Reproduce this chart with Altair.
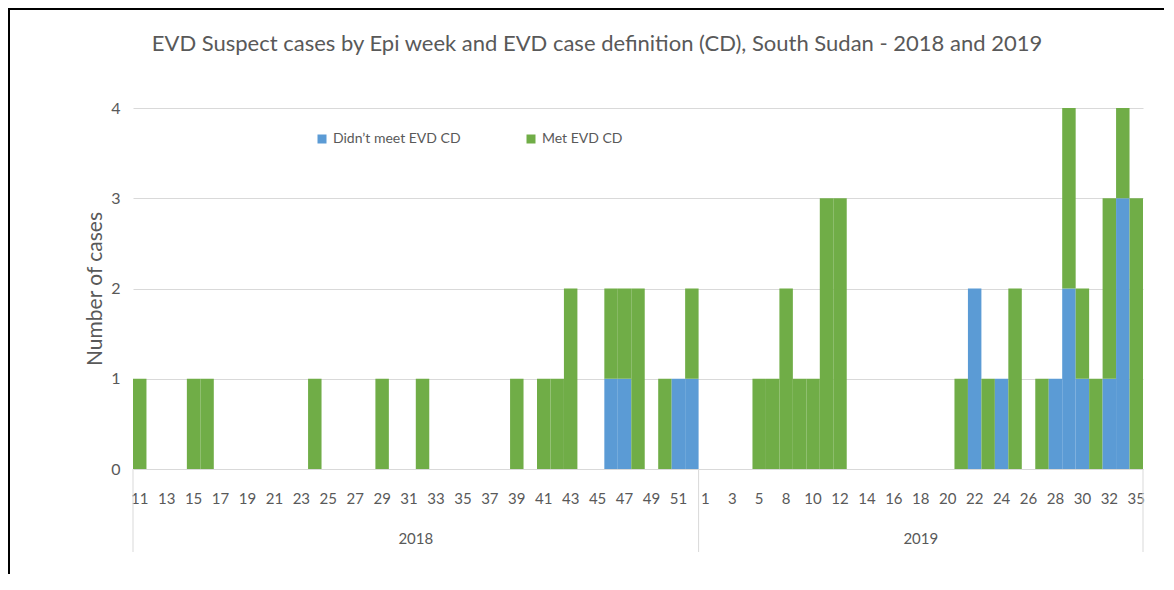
import altair as alt
import pandas as pd

# ---- data ----
years_2018 = list(range(11, 53))
weeks_2019 = [1, 2, 3, 4, 5, 6] + list(range(8, 34)) + [35]

year_list = ["2018"] * len(years_2018) + ["2019"] * len(weeks_2019)
week_list = years_2018 + weeks_2019

didnt_meet_2018 = {46: 1, 47: 1, 51: 1, 52: 1}
met_2018 = {11: 1, 15: 1, 16: 1, 24: 1, 29: 1, 32: 1, 39: 1, 41: 1, 42: 1,
            43: 2, 46: 1, 47: 1, 48: 2, 50: 1, 52: 1}
didnt_meet_2019 = {22: 2, 24: 1, 28: 1, 29: 2, 30: 1, 32: 1, 33: 3}
met_2019 = {5: 1, 6: 1, 8: 2, 9: 1, 10: 1, 11: 3, 12: 3, 21: 1, 23: 1, 25: 2,
            27: 1, 29: 2, 30: 1, 31: 1, 32: 2, 33: 1, 35: 3}

series_names = ["Didn\u2019t meet EVD CD", "Met EVD CD"]
series_colors = ["#5B9BD5", "#70AD47"]

title_text = "EVD Suspect cases by Epi week and EVD case definition (CD), South Sudan - 2018 and 2019"

FONT = "Lato"
GRAY = "#595959"

# ---- build tables ----
keys = [f"{y}-{w}" for y, w in zip(year_list, week_list)]
rows = []
for y, w, k in zip(year_list, week_list, keys):
    dm = (didnt_meet_2018 if y == "2018" else didnt_meet_2019).get(w, 0)
    mt = (met_2018 if y == "2018" else met_2019).get(w, 0)
    rows.append({"key": k, "year": y, "week": w, "series": series_names[0], "ord": 0, "cases": dm})
    rows.append({"key": k, "year": y, "week": w, "series": series_names[1], "ord": 1, "cases": mt})
df = pd.DataFrame(rows)

label_keys = keys[::2]

W, H = 1010, 361

xscale = alt.Scale(domain=keys, paddingInner=0, paddingOuter=0)

bars = alt.Chart(df).mark_bar(strokeWidth=0).encode(
    x=alt.X("key:N", sort=keys, scale=xscale,
            axis=alt.Axis(values=label_keys, labelExpr="split(datum.value, '-')[1]",
                          labelAngle=0, title=None, ticks=False, domain=False, grid=False,
                          labelFont=FONT, labelFontSize=15, labelColor=GRAY, labelPadding=22)),
    y=alt.Y("cases:Q", stack="zero",
            scale=alt.Scale(domain=[0, 4]),
            axis=alt.Axis(values=[0, 1, 2, 3, 4], title="Number of cases", ticks=False,
                          domain=False, gridColor="#d9d9d9", labelFont=FONT,
                          labelFontSize=16, labelColor=GRAY, labelPadding=13,
                          titleFont=FONT, titleFontSize=21, titleFontWeight="normal",
                          titleColor=GRAY, titlePadding=5)),
    color=alt.Color("series:N", scale=alt.Scale(domain=series_names, range=series_colors),
                    legend=alt.Legend(title=None, orient="none", legendX=182, legendY=24,
                                      direction="horizontal", symbolType="square",
                                      symbolSize=81, symbolStrokeWidth=0,
                                      labelFont=FONT, labelFontSize=14, labelColor=GRAY,
                                      labelOffset=4, columnPadding=63)),
    order=alt.Order("ord:Q"),
)

# year group labels and separators (multi-level category axis)
year_df = pd.DataFrame({
    "year": ["2018", "2019"],
    "mid": [keys[21], keys[42 + 16]],
    "start": [keys[0], keys[42]],
})
year_text_2018 = alt.Chart(year_df.iloc[[0]]).mark_text(font=FONT, fontSize=15, color=GRAY, baseline="middle").encode(
    x=alt.X("mid:N", sort=keys, scale=xscale, bandPosition=0),
    text="year:N",
    y=alt.value(H + 70),
)
year_text_2019 = alt.Chart(year_df.iloc[[1]]).mark_text(font=FONT, fontSize=15, color=GRAY, baseline="middle").encode(
    x=alt.X("mid:N", sort=keys, scale=xscale, bandPosition=0.5),
    text="year:N",
    y=alt.value(H + 70),
)
sep_start = alt.Chart(year_df).mark_rule(color="#d9d9d9", strokeWidth=1).encode(
    x=alt.X("start:N", sort=keys, scale=xscale, bandPosition=0),
    y=alt.value(H), y2=alt.value(H + 83),
)
end_df = pd.DataFrame({"end": [keys[-1]]})
sep_end = alt.Chart(end_df).mark_rule(color="#d9d9d9", strokeWidth=1).encode(
    x=alt.X("end:N", sort=keys, scale=xscale, bandPosition=1),
    y=alt.value(H), y2=alt.value(H + 83),
)

# chart title as a text mark (so the frame lines do not push it away)
title_mark = alt.Chart(end_df).mark_text(font=FONT, fontSize=22, color=GRAY, baseline="middle",
                                         align="center", text=title_text).encode(
    x=alt.value(464), y=alt.value(-64))

# outer frame lines (decoration)
frame_top = alt.Chart(end_df).mark_rule(color="black", strokeWidth=2).encode(
    x=alt.value(-125), x2=alt.value(W + 31), y=alt.value(-99))
frame_left = alt.Chart(end_df).mark_rule(color="black", strokeWidth=2).encode(
    x=alt.value(-124), y=alt.value(-100), y2=alt.value(H + 120))

chart = alt.layer(bars, sep_start, sep_end, year_text_2018, year_text_2019,
                  title_mark, frame_top, frame_left).properties(
    width=W, height=H,
    autosize=alt.AutoSizeParams(type="none"),
    padding={"left": 125, "top": 100, "right": 21, "bottom": 105},
).configure_view(stroke=None)

chart.save("out.html", embed_options={"renderer": "svg", "actions": False})
